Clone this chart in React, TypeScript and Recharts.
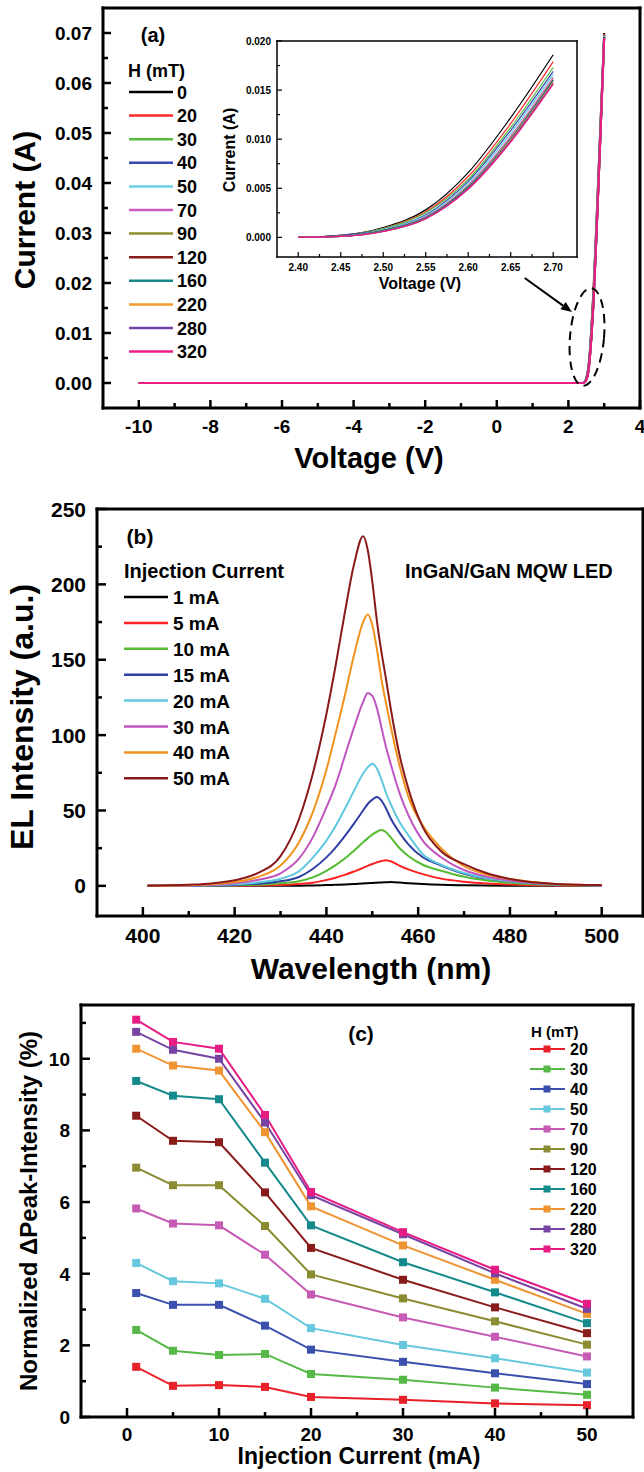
import React from "react";
import { LineChart, Line, XAxis, YAxis, Legend, Label, ReferenceDot, ReferenceLine } from "recharts";

const FONT = '"Liberation Sans", Arial, Helvetica, sans-serif';
const TXT = { fontFamily: FONT, fontWeight: 700, fill: "#000" };

// ---------- (a) I-V curves under magnetic field ----------
const FIELDS = ["0", "20", "30", "40", "50", "70", "90", "120", "160", "220", "280", "320"];
const FIELD_COLORS = [
  "#000000", "#ff2a2a", "#55bb3a", "#3448b0", "#6dcfe3", "#cc5cbf",
  "#8e8e2e", "#8b1a1a", "#17888a", "#f29a2e", "#7442a6", "#ec1c86",
];
const IV_VOLTAGE = [-10, 2.4, 2.45, 2.5, 2.55, 2.6, 2.65, 2.7, 2.8, 2.9, 3.0];
const IV_CURRENT: number[][] = [
  [0, 0, 0.0002, 0.001, 0.0028, 0.0066, 0.0122, 0.0186, 0.0352, 0.0527, 0.07],
  [0, 0, 0.0002, 0.0009, 0.0026, 0.0062, 0.0116, 0.0179, 0.0344, 0.0521, 0.0698],
  [0, 0, 0.0002, 0.0009, 0.0025, 0.0059, 0.0112, 0.0173, 0.0338, 0.0516, 0.0696],
  [0, 0, 0.0002, 0.0008, 0.0023, 0.0057, 0.0109, 0.0169, 0.0334, 0.0513, 0.0695],
  [0, 0, 0.0001, 0.0008, 0.0022, 0.0055, 0.0106, 0.0166, 0.0331, 0.0511, 0.0694],
  [0, 0, 0.0001, 0.0007, 0.0021, 0.0053, 0.0103, 0.0163, 0.0328, 0.0509, 0.0693],
  [0, 0, 0.0001, 0.0007, 0.002, 0.0052, 0.0101, 0.0161, 0.0326, 0.0507, 0.0692],
  [0, 0, 0.0001, 0.0007, 0.002, 0.0051, 0.01, 0.016, 0.0325, 0.0506, 0.0692],
  [0, 0, 0.0001, 0.0007, 0.002, 0.0051, 0.01, 0.016, 0.0325, 0.0506, 0.0691],
  [0, 0, 0.0001, 0.0006, 0.0019, 0.005, 0.0099, 0.0158, 0.0323, 0.0504, 0.069],
  [0, 0, 0.0001, 0.0006, 0.0019, 0.005, 0.0098, 0.0157, 0.0322, 0.0503, 0.069],
  [0, 0, 0.0001, 0.0006, 0.0019, 0.0049, 0.0097, 0.0156, 0.0321, 0.0502, 0.069],
];
const A_X_MAJOR = [-10, -8, -6, -4, -2, 0, 2, 4];
const A_X_MINOR = [-9, -7, -5, -3, -1, 1, 3];
const A_Y_MAJOR = [0, 0.01, 0.02, 0.03, 0.04, 0.05, 0.06, 0.07];
const A_Y_MINOR = [0.005, 0.015, 0.025, 0.035, 0.045, 0.055, 0.065];
const IN_X_MAJOR = [2.4, 2.45, 2.5, 2.55, 2.6, 2.65, 2.7];
const IN_X_MINOR = [2.425, 2.475, 2.525, 2.575, 2.625, 2.675];
const IN_Y_MAJOR = [0, 0.005, 0.01, 0.015, 0.02];
const IN_Y_MINOR = [0.0025, 0.0075, 0.0125, 0.0175];

// ---------- (b) EL spectra ----------
const CURRENTS = ["1 mA", "5 mA", "10 mA", "15 mA", "20 mA", "30 mA", "40 mA", "50 mA"];
const CURRENT_COLORS = ["#000000", "#ff2222", "#55bb33", "#2e3fa3", "#5fc8df", "#c055c0", "#f0921e", "#8a1a1a"];
const EL_WAVELENGTH = [401, 410, 415, 420, 425, 430, 434, 437, 440, 442, 444, 446, 448, 449, 450, 451, 452, 453, 454, 456, 458, 461, 465, 470, 475, 480, 490, 500];
const EL_INTENSITY: number[][] = [
  [0, 0, 0, 0, 0, 0.1, 0.15, 0.25, 0.5, 0.7, 0.9, 1.2, 1.6, 1.75, 1.95, 2.1, 2.3, 2.4, 2.5, 2.2, 1.75, 1.2, 0.7, 0.4, 0.2, 0.1, 0, 0],
  [0, 0, 0.1, 0.1, 0.3, 0.6, 1.2, 2.0, 3.9, 5.4, 7.3, 9.5, 11.9, 13.3, 14.5, 15.6, 16.5, 17, 16.3, 13.3, 10.8, 7.8, 4.8, 2.8, 1.6, 0.9, 0.3, 0.1],
  [0, 0.1, 0.1, 0.3, 0.7, 1.7, 3.1, 5.6, 10, 13.7, 18.1, 23.3, 28.9, 31.5, 34, 35.9, 37, 35.5, 32.2, 24.8, 19.5, 14, 10, 6, 3.5, 2, 0.6, 0.2],
  [0, 0.1, 0.2, 0.6, 1.4, 3.0, 5.9, 11.2, 18.9, 25.4, 33, 41.3, 50, 54.3, 57.2, 59, 56.6, 51.3, 44.8, 35, 27, 19, 13.5, 8, 4.8, 3, 0.9, 0.3],
  [0, 0.2, 0.4, 1.0, 2.2, 4.7, 9.7, 18.6, 30, 39.7, 51, 63, 74.5, 78.6, 81, 77.8, 70.5, 61.6, 54.3, 42, 33, 21, 14, 8.5, 5, 3, 0.9, 0.3],
  [0, 0.3, 0.6, 1.7, 3.9, 8.3, 18, 32, 52, 67, 86, 105, 122, 128, 126, 118, 105, 92, 81, 61, 46, 30, 19, 10.5, 6, 3.5, 1, 0.3],
  [0, 0.4, 1.1, 2.5, 5.8, 13.5, 28.8, 48.6, 77, 101, 126, 153, 175, 180, 173, 157, 137, 121, 106, 79, 58, 40, 25, 13, 7.5, 4.5, 1.3, 0.5],
  [0, 0.7, 1.6, 3.7, 8.4, 19.7, 44, 74, 114, 146, 181, 213, 232, 223, 202, 176, 155, 137, 118, 86, 63, 39, 23, 14.4, 8.4, 4.6, 1.3, 0.5],
];
const B_X_MAJOR = [400, 420, 440, 460, 480, 500];
const B_X_MINOR = [410, 430, 450, 470, 490];
const B_Y_MAJOR = [0, 50, 100, 150, 200, 250];
const B_Y_MINOR = [25, 75, 125, 175, 225];

// ---------- (c) normalized change of peak intensity ----------
const INJECTION = [1, 5, 10, 15, 20, 30, 40, 50];
const C_FIELDS = FIELDS.slice(1);
const C_COLORS = ["#e82028", "#56b947", "#3a4fae", "#66c8dc", "#c65bb5", "#8b8b32", "#8a1b1b", "#158a8c", "#ef9433", "#7744a3", "#e61c85"];
const DELTA_PEAK: number[][] = [
  [1.4, 0.87, 0.89, 0.84, 0.56, 0.48, 0.38, 0.33],
  [2.43, 1.85, 1.73, 1.76, 1.2, 1.04, 0.82, 0.62],
  [3.46, 3.13, 3.13, 2.55, 1.88, 1.54, 1.22, 0.92],
  [4.3, 3.79, 3.73, 3.3, 2.48, 2.01, 1.64, 1.24],
  [5.82, 5.4, 5.35, 4.53, 3.42, 2.78, 2.24, 1.69],
  [6.96, 6.47, 6.47, 5.33, 3.98, 3.31, 2.67, 2.02],
  [8.41, 7.71, 7.67, 6.27, 4.72, 3.83, 3.06, 2.34],
  [9.38, 8.97, 8.87, 7.1, 5.35, 4.32, 3.48, 2.62],
  [10.28, 9.81, 9.67, 7.95, 5.88, 4.79, 3.83, 2.88],
  [10.75, 10.25, 10.0, 8.22, 6.19, 5.1, 4.01, 3.02],
  [11.09, 10.47, 10.28, 8.43, 6.28, 5.16, 4.11, 3.16],
];
const C_X_MAJOR = [0, 10, 20, 30, 40, 50];
const C_X_MINOR = [5, 15, 25, 35, 45];
const C_Y_MAJOR = [0, 2, 4, 6, 8, 10];
const C_Y_MINOR = [1, 3, 5, 7, 9, 11];

// rows for recharts
const ivRows = IV_VOLTAGE.map((v, i) => {
  const row: Record<string, number> = { v };
  FIELDS.forEach((f, k) => (row["h" + f] = IV_CURRENT[k][i]));
  return row;
});
const insetRows = ivRows.filter((r) => r.v >= 2.4 && r.v <= 2.7);
const elRows = EL_WAVELENGTH.map((w, i) => {
  const row: Record<string, number> = { w };
  CURRENTS.forEach((c, k) => (row["c" + k] = EL_INTENSITY[k][i]));
  return row;
});
const deltaRows = INJECTION.map((x, i) => {
  const row: Record<string, number> = { x };
  C_FIELDS.forEach((f, k) => (row["h" + f] = DELTA_PEAK[k][i]));
  return row;
});

// ---------- helpers ----------
const AXIS_LINE = { stroke: "#000", strokeWidth: 3, strokeLinecap: "square" as const };
const INSET_LINE = { stroke: "#000", strokeWidth: 1.5, strokeLinecap: "square" as const };

type TickOpts = {
  major: number[];
  fmt: (v: number) => string;
  fontSize: number;
  gap: number;
  len: number;
  minorLen: number;
  width: number;
};
const onList = (list: number[], v: number) => list.some((m) => Math.abs(m - v) < 1e-9);

const bottomTick = (o: TickOpts) => (props: any) => {
  const { x, y, payload } = props;
  const major = onList(o.major, payload.value);
  return (
    <g>
      <line x1={x} x2={x} y1={y} y2={y - (major ? o.len : o.minorLen)} stroke="#000" strokeWidth={o.width} />
      {major && (
        <text x={x} y={y + o.gap} textAnchor="middle" fontSize={o.fontSize} {...TXT}>
          {o.fmt(payload.value)}
        </text>
      )}
    </g>
  );
};
const leftTick = (o: TickOpts) => (props: any) => {
  const { x, y, payload } = props;
  const major = onList(o.major, payload.value);
  return (
    <g>
      <line x1={x} x2={x + (major ? o.len : o.minorLen)} y1={y} y2={y} stroke="#000" strokeWidth={o.width} />
      {major && (
        <text x={x - o.gap} y={y + o.fontSize * 0.36} textAnchor="end" fontSize={o.fontSize} {...TXT}>
          {o.fmt(payload.value)}
        </text>
      )}
    </g>
  );
};

const ArrowShape = (p: any) => {
  const { x1, y1, x2, y2 } = p;
  const a = Math.atan2(y2 - y1, x2 - x1);
  const h = 11;
  const bx = x2 - h * Math.cos(a);
  const by = y2 - h * Math.sin(a);
  const w = 4.5;
  return (
    <g>
      <line x1={x1} y1={y1} x2={bx} y2={by} stroke="#000" strokeWidth={2} />
      <polygon
        points={`${x2},${y2} ${bx + w * Math.sin(a)},${by - w * Math.cos(a)} ${bx - w * Math.sin(a)},${by + w * Math.cos(a)}`}
        fill="#000"
      />
    </g>
  );
};

const EllipseShape = (p: any) => (
  <ellipse
    cx={p.cx}
    cy={p.cy}
    rx={17}
    ry={49}
    transform={`rotate(5 ${p.cx} ${p.cy})`}
    fill="none"
    stroke="#000"
    strokeWidth={2}
    strokeDasharray="9 6"
  />
);

const hideLegendBox = { left: 0, top: 0, pointerEvents: "none" as const };

function PanelA() {
  return (
    <div style={{ position: "absolute", left: 0, top: 0 }}>
      <LineChart width={644} height={485} data={ivRows} margin={{ top: 7, right: 3, bottom: 76, left: 0 }}>
        <XAxis
          dataKey="v"
          type="number"
          domain={[-11, 4]}
          ticks={[...A_X_MAJOR, ...A_X_MINOR]}
          interval={0}
          height={1}
          tickSize={0}
          tickMargin={0}
          tickLine={false}
          axisLine={AXIS_LINE}
          allowDataOverflow
          tick={bottomTick({ major: A_X_MAJOR, fmt: String, fontSize: 19, gap: 25, len: 8, minorLen: 5, width: 2.5 })}
        >
          <Label content={() => <text x={369} y={468} textAnchor="middle" fontSize={29} {...TXT}>Voltage (V)</text>} />
        </XAxis>
        <XAxis xAxisId="top" orientation="top" dataKey="v" type="number" domain={[-11, 4]} height={1} tick={false} tickLine={false} axisLine={AXIS_LINE}>
          <Label content={() => <text x={153} y={42} textAnchor="middle" fontSize={20} {...TXT}>(a)</text>} />
        </XAxis>
        <YAxis
          type="number"
          domain={[-0.005, 0.075]}
          ticks={[...A_Y_MAJOR, ...A_Y_MINOR]}
          interval={0}
          width={103}
          tickSize={0}
          tickMargin={0}
          tickLine={false}
          axisLine={AXIS_LINE}
          allowDataOverflow
          tick={leftTick({ major: A_Y_MAJOR, fmt: (v) => v.toFixed(2), fontSize: 19, gap: 11, len: 8, minorLen: 5, width: 2.5 })}
        >
          <Label
            content={() => (
              <text x={35} y={210} transform="rotate(-90 35 210)" textAnchor="middle" fontSize={30} {...TXT}>
                Current (A)
              </text>
            )}
          />
        </YAxis>
        <YAxis yAxisId="right" orientation="right" domain={[-0.005, 0.075]} width={1} tick={false} tickLine={false} axisLine={AXIS_LINE} />
        <Legend
          layout="vertical"
          align="center"
          verticalAlign="middle"
          wrapperStyle={{ ...hideLegendBox, width: 240, height: 380 }}
          content={() => (
            <svg width={240} height={380} style={{ display: "block" }}>
              <text x={128} y={77} fontSize={18} {...TXT}>H (mT)</text>
              {FIELDS.map((f, k) => {
                const yc = 92 + 23.6 * k;
                return (
                  <g key={f}>
                    <line x1={129} x2={173} y1={yc} y2={yc} stroke={FIELD_COLORS[k]} strokeWidth={2.5} />
                    <text x={177} y={yc + 6.5} fontSize={18} {...TXT}>{f}</text>
                  </g>
                );
              })}
            </svg>
          )}
        />
        {FIELDS.map((f, k) => (
          <Line key={f} type="monotone" dataKey={"h" + f} stroke={FIELD_COLORS[k]} strokeWidth={2} dot={false} activeDot={false} isAnimationActive={false} />
        ))}
        <ReferenceLine segment={[{ x: 0.78, y: 0.021 }, { x: 2.1, y: 0.0142 }]} shape={ArrowShape} />
        <ReferenceDot x={2.52} y={0.0092} r={1} shape={EllipseShape} />
      </LineChart>
    </div>
  );
}

function Inset() {
  return (
    <div style={{ position: "absolute", left: 220, top: 20 }}>
      <LineChart width={380} height={280} data={insetRows} margin={{ top: 20, right: 22, bottom: 42, left: 0 }}>
        <XAxis
          dataKey="v"
          type="number"
          domain={[2.375, 2.728]}
          ticks={[...IN_X_MAJOR, ...IN_X_MINOR]}
          interval={0}
          height={1}
          tickSize={0}
          tickMargin={0}
          tickLine={false}
          axisLine={INSET_LINE}
          allowDataOverflow
          tick={bottomTick({ major: IN_X_MAJOR, fmt: (v) => v.toFixed(2), fontSize: 10, gap: 14, len: 5, minorLen: 3, width: 1.2 })}
        >
          <Label content={() => <text x={200} y={268.5} textAnchor="middle" fontSize={16} {...TXT}>Voltage (V)</text>} />
        </XAxis>
        <XAxis xAxisId="top" orientation="top" dataKey="v" type="number" domain={[2.375, 2.728]} height={1} tick={false} tickLine={false} axisLine={INSET_LINE} />
        <YAxis
          type="number"
          domain={[-0.002, 0.02]}
          ticks={[...IN_Y_MAJOR, ...IN_Y_MINOR]}
          interval={0}
          width={57}
          tickSize={0}
          tickMargin={0}
          tickLine={false}
          axisLine={INSET_LINE}
          allowDataOverflow
          tick={leftTick({ major: IN_Y_MAJOR, fmt: (v) => v.toFixed(3), fontSize: 10, gap: 6, len: 5, minorLen: 3, width: 1.2 })}
        >
          <Label
            content={() => (
              <text x={14.5} y={130} transform="rotate(-90 14.5 130)" textAnchor="middle" fontSize={16} {...TXT}>
                Current (A)
              </text>
            )}
          />
        </YAxis>
        <YAxis yAxisId="right" orientation="right" domain={[-0.002, 0.02]} width={1} tick={false} tickLine={false} axisLine={INSET_LINE} />
        {FIELDS.map((f, k) => (
          <Line key={f} type="monotone" dataKey={"h" + f} stroke={FIELD_COLORS[k]} strokeWidth={1.2} dot={false} activeDot={false} isAnimationActive={false} />
        ))}
      </LineChart>
    </div>
  );
}

function PanelB() {
  return (
    <div style={{ position: "absolute", left: 0, top: 480 }}>
      <LineChart width={644} height={510} data={elRows} margin={{ top: 28, right: 0, bottom: 73, left: 0 }}>
        <XAxis
          dataKey="w"
          type="number"
          domain={[390, 509]}
          ticks={[...B_X_MAJOR, ...B_X_MINOR]}
          interval={0}
          height={1}
          tickSize={0}
          tickMargin={0}
          tickLine={false}
          axisLine={AXIS_LINE}
          allowDataOverflow
          tick={bottomTick({ major: B_X_MAJOR, fmt: String, fontSize: 21, gap: 27, len: 9, minorLen: 5, width: 2.5 })}
        >
          <Label content={() => <text x={371} y={499} textAnchor="middle" fontSize={30} {...TXT}>Wavelength (nm)</text>} />
        </XAxis>
        <XAxis xAxisId="top" orientation="top" dataKey="w" type="number" domain={[390, 509]} height={1} tick={false} tickLine={false} axisLine={AXIS_LINE}>
          <Label
            content={() => (
              <g>
                <text x={140} y={63.5} textAnchor="middle" fontSize={21} {...TXT}>(b)</text>
                <text x={405} y={98} fontSize={20} {...TXT}>InGaN/GaN MQW LED</text>
              </g>
            )}
          />
        </XAxis>
        <YAxis
          type="number"
          domain={[-20, 250]}
          ticks={[...B_Y_MAJOR, ...B_Y_MINOR]}
          interval={0}
          width={97}
          tickSize={0}
          tickMargin={0}
          tickLine={false}
          axisLine={AXIS_LINE}
          allowDataOverflow
          tick={leftTick({ major: B_Y_MAJOR, fmt: String, fontSize: 21, gap: 11, len: 9, minorLen: 5, width: 2.5 })}
        >
          <Label
            content={() => (
              <text x={33} y={237} transform="rotate(-90 33 237)" textAnchor="middle" fontSize={32} {...TXT}>
                EL Intensity (a.u.)
              </text>
            )}
          />
        </YAxis>
        <YAxis yAxisId="right" orientation="right" domain={[-20, 250]} width={1} tick={false} tickLine={false} axisLine={AXIS_LINE} />
        <Legend
          layout="vertical"
          align="center"
          verticalAlign="middle"
          wrapperStyle={{ ...hideLegendBox, width: 320, height: 320 }}
          content={() => (
            <svg width={320} height={320} style={{ display: "block" }}>
              <text x={124} y={98} fontSize={20} {...TXT}>Injection Current</text>
              {CURRENTS.map((c, k) => {
                const yc = 117 + 25.9 * k;
                return (
                  <g key={c}>
                    <line x1={124} x2={168} y1={yc} y2={yc} stroke={CURRENT_COLORS[k]} strokeWidth={2.5} />
                    <text x={173} y={yc + 7} fontSize={19} {...TXT}>{c}</text>
                  </g>
                );
              })}
            </svg>
          )}
        />
        {CURRENTS.map((c, k) => (
          <Line key={c} type="monotone" dataKey={"c" + k} stroke={CURRENT_COLORS[k]} strokeWidth={2} dot={false} activeDot={false} isAnimationActive={false} />
        ))}
      </LineChart>
    </div>
  );
}

function PanelC() {
  return (
    <div style={{ position: "absolute", left: 0, top: 980 }}>
      <LineChart width={644} height={492} data={deltaRows} margin={{ top: 24, right: 10, bottom: 54, left: 0 }}>
        <XAxis
          dataKey="x"
          type="number"
          domain={[-5, 55]}
          ticks={[...C_X_MAJOR, ...C_X_MINOR]}
          interval={0}
          height={1}
          tickSize={0}
          tickMargin={0}
          tickLine={false}
          axisLine={AXIS_LINE}
          allowDataOverflow
          tick={bottomTick({ major: C_X_MAJOR, fmt: String, fontSize: 19, gap: 24, len: 9, minorLen: 5, width: 2.5 })}
        >
          <Label content={() => <text x={359} y={484} textAnchor="middle" fontSize={23} {...TXT}>Injection Current (mA)</text>} />
        </XAxis>
        <XAxis xAxisId="top" orientation="top" dataKey="x" type="number" domain={[-5, 55]} height={1} tick={false} tickLine={false} axisLine={AXIS_LINE}>
          <Label content={() => <text x={361} y={60.5} textAnchor="middle" fontSize={21} {...TXT}>(c)</text>} />
        </XAxis>
        <YAxis
          type="number"
          domain={[0, 11.5]}
          ticks={[...C_Y_MAJOR, ...C_Y_MINOR]}
          interval={0}
          width={81}
          tickSize={0}
          tickMargin={0}
          tickLine={false}
          axisLine={AXIS_LINE}
          allowDataOverflow
          tick={leftTick({ major: C_Y_MAJOR, fmt: String, fontSize: 19, gap: 11, len: 9, minorLen: 5, width: 2.5 })}
        >
          <Label
            content={() => (
              <text x={37} y={231} transform="rotate(-90 37 231)" textAnchor="middle" fontSize={24} {...TXT}>
                Normalized ΔPeak-Intensity (%)
              </text>
            )}
          />
        </YAxis>
        <YAxis yAxisId="right" orientation="right" domain={[0, 11.5]} width={1} tick={false} tickLine={false} axisLine={AXIS_LINE} />
        <Legend
          layout="vertical"
          align="center"
          verticalAlign="middle"
          wrapperStyle={{ ...hideLegendBox, width: 644, height: 300 }}
          content={() => (
            <svg width={644} height={300} style={{ display: "block" }}>
              <text x={531} y={56.5} fontSize={15} {...TXT}>H (mT)</text>
              {C_FIELDS.map((f, k) => {
                const yc = 69 + 20 * k;
                return (
                  <g key={f}>
                    <line x1={530} x2={565} y1={yc} y2={yc} stroke={C_COLORS[k]} strokeWidth={2} />
                    <rect x={543.5} y={yc - 3.5} width={7} height={7} fill={C_COLORS[k]} />
                    <text x={570} y={yc + 5.5} fontSize={16} {...TXT}>{f}</text>
                  </g>
                );
              })}
            </svg>
          )}
        />
        {C_FIELDS.map((f, k) => (
          <Line
            key={f}
            type="linear"
            dataKey={"h" + f}
            stroke={C_COLORS[k]}
            strokeWidth={2}
            activeDot={false}
            isAnimationActive={false}
            dot={(p: any) => (
              <rect key={`${f}-${p.index}`} x={p.cx - 4} y={p.cy - 4} width={8} height={8} fill={C_COLORS[k]} />
            )}
          />
        ))}
      </LineChart>
    </div>
  );
}

export default function App() {
  return (
    <div style={{ position: "absolute", left: 0, top: 0, width: 644, height: 1472, background: "#fff", overflow: "hidden" }}>
      <PanelA />
      <Inset />
      <PanelB />
      <PanelC />
    </div>
  );
}
